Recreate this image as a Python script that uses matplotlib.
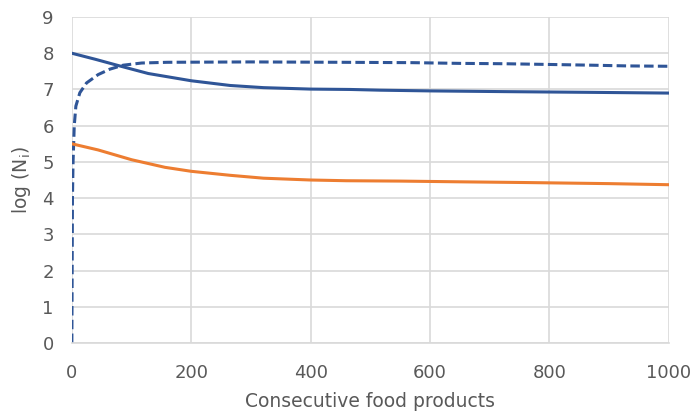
import numpy as np
import matplotlib as mpl
mpl.use('Agg')
import matplotlib.pyplot as plt
from matplotlib import rcParams as rc

rc.update({'font.size': 13, 'font.family': 'DejaVu Sans'})

# consecutive food products vs log counts
x_solid = [0, 40, 80, 128, 200, 265, 321, 400, 466, 516, 600, 725, 870, 1000]
y_solid = [8.0, 7.83, 7.65, 7.44, 7.24, 7.11, 7.05, 7.01, 7.0, 6.98, 6.96, 6.94, 6.92, 6.90]

x_dash = [0, 1, 2, 4, 6.7, 13.4, 24.6, 44, 63.6, 86, 117, 160, 300, 450, 570, 650, 725, 800, 870, 930, 1000]
y_dash = [0.0, 4.0, 5.0, 6.0, 6.54, 6.91, 7.18, 7.41, 7.56, 7.67, 7.73, 7.75, 7.76, 7.75, 7.74, 7.72, 7.71, 7.69, 7.67, 7.65, 7.64]

x_orange = [0, 44, 100, 156, 200, 265, 321, 400, 460, 550, 650, 760, 900, 1000]
y_orange = [5.50, 5.33, 5.06, 4.85, 4.74, 4.63, 4.55, 4.50, 4.48, 4.47, 4.45, 4.43, 4.40, 4.37]

blue = '#2F5597'
orange = '#ED7D31'
grey = '#595959'

fig = plt.figure(figsize=(6.91, 4.15), dpi=100)
ax = fig.add_axes([0.104, 0.1735, 0.864, 0.7855])
ax.plot(x_solid, y_solid, color=blue, lw=2.2)
ax.plot(x_dash, y_dash, color=blue, lw=2.2, ls=(0, (3.1, 1.4)))
ax.plot(x_orange, y_orange, color=orange, lw=2.2)

ax.set_xlim(0, 1000)
ax.set_ylim(0, 9)
ax.set_xticks(range(0, 1001, 200))
ax.set_yticks(range(0, 10))
ax.grid(True, color='#D9D9D9', lw=1.2)
ax.set_axisbelow(True)
for s in ['top', 'right', 'left']:
    ax.spines[s].set_visible(False)
ax.spines['bottom'].set_color('#D9D9D9')
ax.spines['bottom'].set_linewidth(1.2)
ax.tick_params(length=0, colors=grey, labelsize=13)
ax.tick_params(axis='x', pad=15)
ax.tick_params(axis='y', pad=13)
ax.set_xlabel('Consecutive food products', color=grey, fontsize=13.5, labelpad=7)
ax.set_ylabel('log (N$_\\mathregular{i}$)', color=grey, fontsize=13.5, labelpad=7)

plt.savefig('out.png', dpi=100)
plt.close()
